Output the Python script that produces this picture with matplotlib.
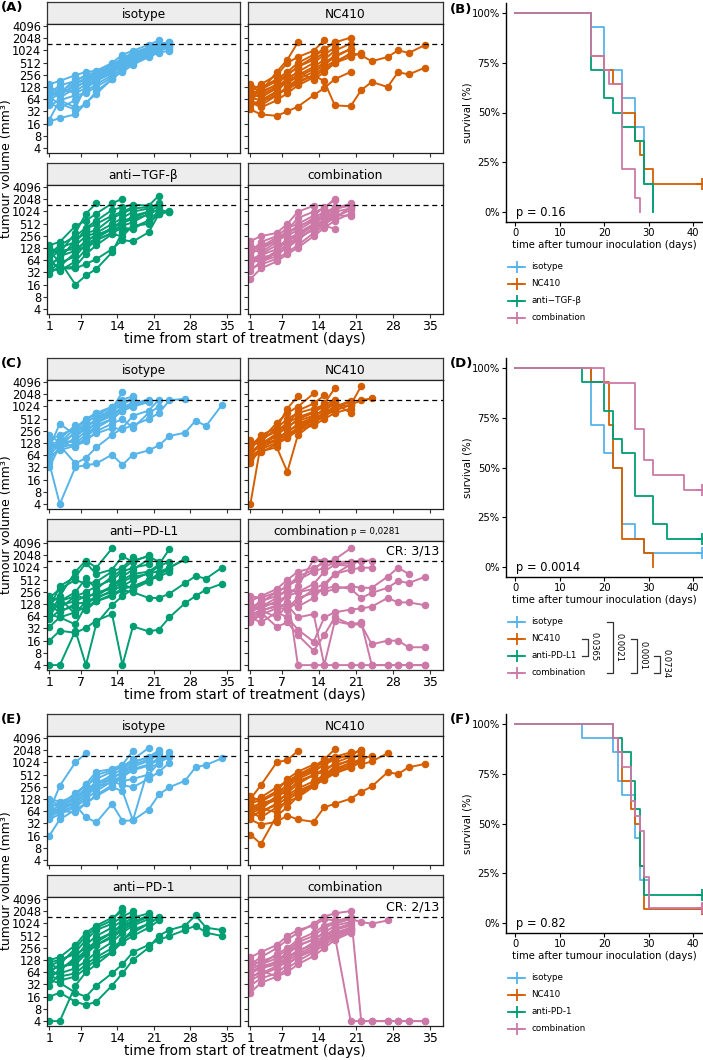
import matplotlib
matplotlib.use('Agg')
import matplotlib.pyplot as plt

# Okabe-Ito colours
c_iso = '#56B4E9'
c_nc = '#D55E00'
c_anti = '#009E73'
c_comb = '#CC79A7'

# measurement days (mon / wed / fri)
days = [1, 3, 6, 8, 10, 13, 15, 17, 20, 22, 24, 27, 29, 31, 34]
vol_ticks = [4, 8, 16, 32, 64, 128, 256, 512, 1024, 2048, 4096]
day_ticks = [1, 7, 14, 21, 28, 35]
endpoint = 1500

# ---- (A) tumour volumes, one list per mouse ----
a_iso = [
    [18, 22, 27, 52, 87, 200, 330, 600, 900, 1300, 1100],
    [20, 60, 40, 130, 190, 300, 420, 650, 1000, 1500, 1600],
    [150, 180, 250, 300, 320, 500, 800, 1000, 1400, 1800],
    [130, 90, 200, 230, 260, 420, 600, 850, 1200, 1500, 1500],
    [100, 70, 120, 180, 230, 350, 500, 700, 1000, 1300],
    [80, 100, 100, 150, 200, 300, 450, 600, 900, 1200, 1300],
    [64, 120, 90, 120, 180, 280, 400, 550, 800, 1100, 1500],
    [50, 40, 60, 100, 150, 250, 350, 500, 750, 1000, 1200],
    [45, 60, 80, 90, 130, 220, 300, 450, 700, 900, 1000],
    [70, 50, 35, 50, 100, 200, 320, 550, 850, 1100],
    [110, 80, 150, 200, 250, 380, 550, 750, 1100, 1400],
    [90, 140, 180, 250, 300, 450, 650, 900, 1200],
    [60, 90, 130, 170, 220, 330, 480, 650, 950, 1250, 1600],
    [120, 100, 160, 210, 280, 400, 600, 800, 1150, 1400],
]
a_nc = [
    [36, 27, 25, 32, 42, 80, 120, 200, 300],
    [60, 45, 80, 120, 177, 250, 177, 45, 43, 107, 170, 128, 297, 260, 380],
    [90, 70, 120, 200, 300, 195, 295, 500, 880, 770, 550, 700, 1024, 880, 1360],
    [128, 100, 300, 600, 1600],
    [100, 150, 250, 500, 700, 1000, 1800],
    [80, 120, 200, 300, 500, 800, 1100, 1600],
    [64, 90, 150, 250, 400, 700, 1100, 1600, 2100],
    [70, 60, 100, 180, 250, 400, 600, 1000, 1500],
    [50, 55, 80, 130, 200, 300, 450, 700, 1100],
    [110, 80, 130, 200, 300, 500, 800, 1200],
    [45, 60, 90, 110, 160, 250, 400, 550, 800],
    [150, 110, 180, 260, 400, 600, 900],
    [55, 40, 60, 90, 140, 220, 350, 500, 700, 900],
    [75, 100, 140, 160, 230, 350, 500, 750, 1100],
]
a_anti = [
    [100, 60, 16, 27, 39, 100, 320, 415, 600, 1050],
    [64, 40, 40, 52, 68, 120, 200, 185, 310, 880, 1024],
    [128, 100, 300, 900, 1600],
    [150, 180, 450, 600, 900, 1600, 2100],
    [90, 150, 250, 400, 600, 1100, 1300, 1500, 1400, 2500],
    [50, 70, 200, 300, 350, 700, 900, 1200, 1300, 1500],
    [40, 35, 60, 120, 200, 300, 500, 800, 1000, 1400],
    [30, 45, 100, 200, 250, 400, 600, 700, 1000, 1100],
    [120, 90, 150, 250, 300, 500, 700, 1000, 1200, 1600],
    [70, 110, 120, 180, 280, 350, 450, 550, 900, 1100, 1000],
    [35, 55, 80, 160, 220, 380, 550, 650, 850],
    [80, 130, 180, 380, 500, 800, 1000, 1300],
    [60, 40, 45, 90, 150, 280, 250, 450, 500, 900, 1000],
    [45, 80, 110, 140, 200, 300, 400, 380, 600, 1000],
]
a_comb = [
    [22, 40, 60, 90, 130, 250, 400, 600, 900],
    [190, 250, 300, 500, 1000, 1400],
    [150, 120, 200, 350, 700, 1000, 1200, 2100],
    [100, 180, 250, 400, 500, 800, 1300, 1950],
    [80, 60, 110, 200, 250, 450, 900, 1300, 1500],
    [64, 90, 150, 180, 300, 500, 800, 1000, 1200],
    [50, 75, 90, 130, 200, 400, 600, 800, 800],
    [40, 50, 70, 100, 150, 300, 450, 380],
    [120, 100, 180, 300, 450, 600, 900, 1100, 1600],
    [90, 130, 200, 260, 350, 600, 700, 1000],
    [70, 55, 100, 160, 240, 350, 500, 700, 1300],
    [55, 85, 120, 220, 280, 450, 650, 900],
    [35, 60, 80, 150, 220, 380, 550, 750, 1100],
    [110, 140, 230, 300, 400, 700, 1000, 1200, 1400],
]

# ---- (C) ----
c_iso_v = [
    [40, 4, 33, 36, 40, 66, 37, 66, 84, 112, 190, 230, 456, 335, 1085],
    [100, 380, 200, 300, 500, 900, 2270],
    [128, 100, 250, 400, 600, 1000, 1500, 1800],
    [200, 130, 300, 450, 700, 1000, 1200, 1500],
    [64, 120, 150, 250, 400, 700, 900, 1300],
    [32, 110, 40, 55, 100, 200, 300, 600, 800, 1500],
    [80, 150, 130, 200, 350, 500, 800, 1100, 1400],
    [110, 90, 180, 300, 500, 800, 1100, 1700],
    [90, 130, 220, 350, 450, 750, 1300, 1500],
    [50, 100, 120, 160, 220, 300, 280, 350, 500, 700, 1450, 1560],
    [70, 160, 350, 250, 400, 600, 1000, 1200],
    [150, 200, 300, 500, 700, 600, 900, 1200, 1500],
    [120, 140, 100, 180, 300, 500, 800, 1000, 1300],
    [60, 85, 110, 140, 250, 380, 500, 300, 700, 1000],
]
c_nc_v = [
    [4, 124, 150, 200, 300, 500, 700, 1000, 1400],
    [50, 80, 100, 25, 200, 400, 600, 900],
    [100, 200, 300, 900, 1820],
    [128, 150, 400, 700, 1000, 2120],
    [90, 170, 250, 350, 800, 1200, 1900],
    [64, 120, 220, 300, 500, 700, 1200, 2840],
    [110, 140, 300, 500, 700, 900, 1100, 1500],
    [80, 100, 150, 250, 350, 500, 700, 1000, 1100, 3230],
    [60, 90, 130, 180, 280, 400, 600, 800, 1100, 1450, 1600],
    [150, 110, 200, 330, 450, 600, 800, 1200],
    [40, 100, 160, 200, 300, 450, 650, 1000, 1300],
    [70, 130, 180, 230, 380, 550, 900, 1400],
    [120, 160, 250, 400, 550, 750, 1000, 1200, 700],
    [55, 75, 120, 170, 260, 350, 500, 700, 900],
]
c_anti_v = [
    [4, 4, 28, 4, 42, 120, 200, 300, 500, 700, 1000, 1600],
    [16, 28, 25, 33, 50, 72, 4, 36, 27, 30, 60, 135, 200, 290, 400],
    [35, 60, 80, 110, 150, 200, 280, 250, 180, 180, 230, 420, 620, 540, 1000],
    [128, 200, 800, 1500, 1000, 3000],
    [100, 350, 600, 1300, 700, 900, 1900, 1400, 2000],
    [180, 300, 500, 400, 450, 800, 1000, 1800],
    [64, 150, 250, 550, 300, 600, 900, 1500, 1900, 1400],
    [90, 120, 150, 200, 220, 350, 500, 700, 800, 1200, 2900],
    [150, 100, 200, 180, 250, 300, 450, 600, 700, 1100, 1400],
    [80, 180, 70, 160, 170, 280, 350, 500, 750, 800, 1000, 1670],
    [120, 80, 130, 140, 190, 250, 400, 300, 450, 700, 900],
    [55, 90, 110, 90, 150, 220, 300, 350, 500, 600, 800],
    [200, 150, 200, 250, 350, 500, 800, 1000, 1200],
    [70, 60, 40, 120, 200, 350, 600, 900, 1600],
]
c_comb_v = [
    [100, 150, 200, 260, 4, 4, 4, 4, 4, 4, 4, 4, 4, 4, 4],
    [70, 90, 60, 120, 60, 72, 4, 48, 40, 45, 4, 4, 4, 4, 4],
    [50, 80, 35, 45, 22, 9, 22, 60, 40, 40, 13, 16, 16, 11, 11],
    [128, 100, 150, 200, 250, 300, 250, 300, 350, 320, 320, 600, 1000, 700],
    [90, 120, 130, 100, 180, 240, 300, 350, 300, 180, 240, 320, 470, 420, 590],
    [60, 45, 80, 60, 30, 15, 60, 80, 93, 100, 110, 180, 140, 140, 120],
    [150, 200, 300, 500, 800, 1000, 1300, 1600, 3000],
    [100, 140, 250, 350, 600, 900, 1500, 1400, 1400, 1500, 1500],
    [80, 110, 180, 300, 250, 400, 800, 1200, 1300],
    [60, 85, 120, 200, 350, 1600, 1500, 1200, 1100],
    [120, 90, 110, 90, 150, 300, 400, 700, 1200, 1500],
    [45, 70, 100, 140, 110, 180, 350, 700, 900, 1000, 1000],
    [200, 180, 250, 350, 500, 800, 1000, 1400],
]

# ---- (E) ----
e_iso = [
    [64, 270, 1024, 1700],
    [70, 60, 90, 45, 34, 97, 37, 38, 70, 165, 250, 360, 780, 880, 1280],
    [16, 40, 70, 100, 150, 250, 200, 38, 770, 930, 1850],
    [100, 80, 130, 200, 300, 400, 350, 400, 510, 1000, 1400],
    [128, 110, 150, 300, 600, 700, 900, 1950],
    [90, 60, 120, 250, 500, 650, 800, 1200, 2300],
    [50, 70, 100, 180, 300, 500, 700, 1000, 1400, 2000],
    [80, 100, 90, 150, 250, 400, 600, 900, 1200, 1800],
    [40, 55, 80, 130, 200, 350, 280, 250, 400, 600, 1000],
    [60, 90, 140, 220, 320, 450, 550, 800, 1100, 1600],
    [55, 75, 110, 180, 250, 330, 500, 700, 900, 1300, 1500],
    [120, 90, 180, 280, 400, 600, 800, 1100, 1300],
    [45, 65, 60, 100, 160, 280, 450, 650, 850, 1200],
]
e_nc = [
    [17, 10, 50, 80, 150, 300, 500, 800, 1200, 1700],
    [40, 30, 35, 50, 40, 35, 80, 97, 130, 190, 260, 580, 530, 770, 930],
    [128, 280, 1024, 1160, 1950],
    [64, 80, 150, 300, 500, 800, 1200, 2160],
    [100, 120, 200, 400, 600, 900, 1000, 1300, 1500, 2100],
    [50, 60, 100, 180, 300, 500, 700, 900, 1100, 900, 1080, 1700],
    [80, 100, 130, 250, 400, 600, 900, 1200, 1600, 2100],
    [90, 70, 150, 200, 350, 500, 600, 1000, 1400],
    [70, 90, 120, 160, 230, 350, 500, 700, 1000, 1200],
    [110, 140, 250, 350, 500, 700, 1100, 1400, 1800],
    [60, 45, 80, 110, 140, 260, 400, 600, 800, 1000],
    [45, 65, 90, 140, 200, 300, 450, 650, 900, 1200, 1500],
    [150, 110, 180, 280, 450, 650, 900, 1300],
    [55, 75, 60, 120, 180, 280, 380, 550, 750, 1100],
]
e_anti = [
    [4, 4, 30, 64, 100, 200, 400, 600, 1000, 1500],
    [16, 20, 12, 10, 12, 30, 60, 128, 256, 512, 700, 900, 1600, 800, 700],
    [40, 35, 20, 16, 30, 60, 100, 200, 300, 400, 500, 700, 900, 600, 500],
    [64, 100, 250, 500, 800, 1200, 2500],
    [128, 150, 300, 600, 900, 1400, 2000],
    [90, 120, 200, 400, 700, 1000, 1500, 2000],
    [50, 70, 150, 300, 500, 800, 1200, 1600],
    [100, 80, 120, 200, 400, 600, 1000, 1400, 1800],
    [70, 90, 100, 180, 300, 500, 800, 1100, 1600],
    [30, 60, 80, 120, 200, 350, 600, 900, 1300],
    [110, 130, 180, 250, 350, 600, 900, 1200],
    [80, 50, 60, 100, 150, 250, 400, 700, 1000, 1400],
    [55, 40, 50, 80, 130, 200, 350, 500, 800, 1200],
    [45, 75, 130, 220, 300, 450, 700, 1000, 1500],
]
e_comb = [
    [100, 150, 250, 400, 600, 1000, 1500, 1800, 2048, 4, 4, 4, 4, 4, 4],
    [60, 80, 120, 200, 300, 400, 600, 500, 4, 4, 4, 4, 4, 4, 4],
    [150, 200, 300, 500, 700, 900, 1300, 1200, 1300, 1100, 1000, 1200],
    [128, 100, 180, 250, 400, 600, 900, 1100, 1500],
    [90, 120, 160, 220, 350, 500, 800, 1000, 1300],
    [64, 90, 110, 180, 280, 420, 600, 900, 1100],
    [50, 60, 90, 140, 200, 350, 500, 750, 1000],
    [40, 55, 80, 120, 180, 280, 400, 600, 800],
    [30, 45, 60, 100, 150, 220, 350, 500, 700],
    [20, 35, 50, 80, 120, 200, 300, 450, 650],
    [110, 80, 100, 150, 220, 300, 450, 700, 900],
    [75, 100, 140, 100, 160, 250, 380, 550, 750],
    [45, 70, 50, 64, 100, 160, 250, 400, 600],
]

# ---- survival: event times and survival fractions ----
b_iso_t = [17, 20, 24, 27, 29, 31]
b_iso_s = [0.929, 0.714, 0.571, 0.429, 0.143, 0.0]
b_nc_t = [17, 20, 22, 24, 27, 28, 29, 31]
b_nc_s = [0.786, 0.714, 0.643, 0.500, 0.357, 0.286, 0.214, 0.143]
b_anti_t = [17, 20, 22, 24, 27, 29, 31]
b_anti_s = [0.714, 0.571, 0.500, 0.429, 0.357, 0.143, 0.0]
b_comb_t = [17, 20, 21, 24, 27, 28]
b_comb_s = [0.786, 0.714, 0.643, 0.214, 0.071, 0.0]

d_iso_t = [17, 20, 22, 24, 27, 29]
d_iso_s = [0.714, 0.571, 0.500, 0.214, 0.143, 0.071]
d_nc_t = [17, 21, 22, 24, 29, 31]
d_nc_s = [0.929, 0.714, 0.500, 0.143, 0.071, 0.0]
d_anti_t = [15, 20, 22, 24, 27, 31, 34]
d_anti_s = [0.929, 0.786, 0.643, 0.571, 0.357, 0.214, 0.143]
d_comb_t = [20, 27, 29, 31, 38]
d_comb_s = [0.923, 0.692, 0.538, 0.462, 0.385]

f_iso_t = [15, 22, 23, 24, 27, 28, 30]
f_iso_s = [0.929, 0.857, 0.714, 0.643, 0.429, 0.214, 0.071]
f_nc_t = [22, 23, 24, 26, 27, 28, 29]
f_nc_s = [0.929, 0.857, 0.714, 0.571, 0.500, 0.286, 0.071]
f_anti_t = [22, 24, 26, 27, 28, 29]
f_anti_s = [0.929, 0.857, 0.714, 0.571, 0.286, 0.143]
f_comb_t = [22, 23, 24, 26, 27, 28, 29, 30]
f_comb_s = [0.929, 0.857, 0.786, 0.615, 0.538, 0.462, 0.231, 0.077]

km_pvals = ['p = 0.16', 'p = 0.0014', 'p = 0.82']
d_br_rows = [(1, 2), (0, 3), (1, 3), (2, 3)]
d_br_p = ['0.0365', '0.0021', '0.0001', '0.0734']

W, H = 703, 1060
fig = plt.figure(figsize=(W / 100, H / 100), dpi=100)


def px_axes(x0, y0, x1, y1):
    return fig.add_axes([x0 / W, 1 - y1 / H, (x1 - x0) / W, (y1 - y0) / H])


def facet(x0, x1, y0, y1, mice, colour, title, show_x, show_y, sub=None, cr=None):
    st = px_axes(x0, y0 - 22, x1, y0)
    st.set_xticks([])
    st.set_yticks([])
    st.set_facecolor('#EDEDED')
    for s in st.spines.values():
        s.set_color('#333333')
        s.set_linewidth(0.9)
    if sub is None:
        st.text(0.5, 0.45, title, ha='center', va='center', fontsize=8.7, transform=st.transAxes)
    else:
        st.text(0.515, 0.45, title, ha='right', va='center', fontsize=8.7, transform=st.transAxes)
        st.text(0.53, 0.42, sub, ha='left', va='center', fontsize=6.3, transform=st.transAxes)

    ax = px_axes(x0, y0, x1, y1)
    for v in mice:
        ax.plot(days[:len(v)], v, '-o', color=colour, lw=1.4, ms=4.4)
    ax.axhline(endpoint, color='black', lw=0.9, ls=(0, (4, 3)))
    ax.set_yscale('log', base=2)
    ax.set_ylim(2 ** 1.6, 2 ** 12.15)
    ax.set_xlim(0.55, 37.5)
    ax.set_yticks(vol_ticks)
    ax.set_xticks(day_ticks)
    ax.minorticks_off()
    ax.set_yticklabels([str(t) for t in vol_ticks] if show_y else [])
    ax.set_xticklabels([str(t) for t in day_ticks] if show_x else [])
    ax.tick_params(length=3, width=0.8, color='#333333', labelsize=8.3, pad=1.2)
    ax.tick_params(axis='x', labelsize=9)
    for s in ax.spines.values():
        s.set_color('#222222')
        s.set_linewidth(0.9)
    if cr:
        ax.text(0.98, 0.97, cr, ha='right', va='top', fontsize=9, transform=ax.transAxes)
    return ax


def block(top, groups, label):
    cols = [(47, 240), (248, 443)]
    rows = [(top + 24, top + 153), (top + 185, top + 314)]
    for k, (mice, colour, title, sub, cr) in enumerate(groups):
        r, c = divmod(k, 2)
        facet(cols[c][0], cols[c][1], rows[r][0], rows[r][1], mice, colour, title,
              show_x=(r == 1), show_y=(c == 0), sub=sub, cr=cr)
    fig.text(7 / W, 1 - (top + 169) / H, 'tumour volume (mm³)', rotation=90,
             ha='center', va='center', fontsize=9)
    fig.text(245 / W, 1 - (top + 339) / H, 'time from start of treatment (days)',
             ha='center', va='center', fontsize=9.8)
    fig.text(1 / W, 1 - (top + 8) / H, label, fontweight='bold', ha='left', va='center', fontsize=9.5)


def km_panel(top, curves, pval, label, names):
    ax = px_axes(506, top, 703, top + 219)
    for t, s, colour in curves:
        xs = [0] + t
        ys = [1.0] + s
        if s[-1] > 0:
            xs = xs + [42]
            ys = ys + [s[-1]]
        ax.step(xs, ys, where='post', color=colour, lw=1.3)
        if s[-1] > 0:
            ax.plot(42, s[-1], '+', color=colour, ms=8, mew=1.3)
    ax.set_xlim(-2.1, 42.2)
    ax.set_ylim(-0.05, 1.05)
    ax.set_xticks([0, 10, 20, 30, 40])
    ax.set_yticks([0, 0.25, 0.5, 0.75, 1.0])
    ax.set_yticklabels(['0%', '25%', '50%', '75%', '100%'])
    for side in ['top', 'right']:
        ax.spines[side].set_visible(False)
    for side in ['left', 'bottom']:
        ax.spines[side].set_linewidth(1.0)
    ax.tick_params(length=3, width=0.8, labelsize=7.2, pad=1.5)
    ax.set_xlabel('time after tumour inoculation (days)', fontsize=7.3, labelpad=1)
    ax.text(0.2, 0.0, pval, fontsize=8.3, va='center', ha='left')
    fig.text(467 / W, 1 - (top + 110) / H, 'survival (%)', rotation=90,
             ha='center', va='center', fontsize=7.3)
    fig.text(450 / W, 1 - (top + 6) / H, label, fontweight='bold', ha='left', va='center', fontsize=9.5)

    # legend below the panel
    lg = px_axes(506, top + 255, 703, top + 323)
    lg.set_xlim(0, 197)
    lg.set_ylim(3.5, -0.5)
    lg.axis('off')
    for i, (name, (t, s, colour)) in enumerate(zip(names, curves)):
        lg.plot([2, 19], [i, i], color=colour, lw=1.3)
        lg.plot(10.5, i, '+', color=colour, ms=8, mew=1.3)
        lg.text(25, i, name, fontsize=6.3, va='center', ha='left')
    return lg


block(0, [(a_iso, c_iso, 'isotype', None, None),
          (a_nc, c_nc, 'NC410', None, None),
          (a_anti, c_anti, 'anti\u2212TGF-\u03b2', None, None),
          (a_comb, c_comb, 'combination', None, None)], '(A)')
block(356, [(c_iso_v, c_iso, 'isotype', None, None),
            (c_nc_v, c_nc, 'NC410', None, None),
            (c_anti_v, c_anti, 'anti\u2212PD-L1', None, None),
            (c_comb_v, c_comb, 'combination', 'p = 0,0281', 'CR: 3/13')], '(C)')
block(712, [(e_iso, c_iso, 'isotype', None, None),
            (e_nc, c_nc, 'NC410', None, None),
            (e_anti, c_anti, 'anti\u2212PD-1', None, None),
            (e_comb, c_comb, 'combination', None, 'CR: 2/13')], '(E)')

km_panel(3, [(b_iso_t, b_iso_s, c_iso), (b_nc_t, b_nc_s, c_nc),
             (b_anti_t, b_anti_s, c_anti), (b_comb_t, b_comb_s, c_comb)],
         km_pvals[0], '(B)', ['isotype', 'NC410', 'anti\u2212TGF-\u03b2', 'combination'])
lg_d = km_panel(358, [(d_iso_t, d_iso_s, c_iso), (d_nc_t, d_nc_s, c_nc),
                      (d_anti_t, d_anti_s, c_anti), (d_comb_t, d_comb_s, c_comb)],
                km_pvals[1], '(D)', ['isotype', 'NC410', 'anti-PD-L1', 'combination'])
km_panel(714, [(f_iso_t, f_iso_s, c_iso), (f_nc_t, f_nc_s, c_nc),
               (f_anti_t, f_anti_s, c_anti), (f_comb_t, f_comb_s, c_comb)],
         km_pvals[2], '(F)', ['isotype', 'NC410', 'anti-PD-1', 'combination'])

# pairwise comparison brackets next to legend (D)
for (r0, r1), xb, p in zip(d_br_rows, [82, 107, 131, 154], d_br_p):
    lg_d.plot([xb - 6, xb, xb, xb - 6], [r0, r0, r1, r1], color='#333333', lw=0.9)
    lg_d.text(xb + 6, (r0 + r1) / 2, p, rotation=270, fontsize=6, ha='center', va='center')

fig.savefig('out.png', dpi=100)
